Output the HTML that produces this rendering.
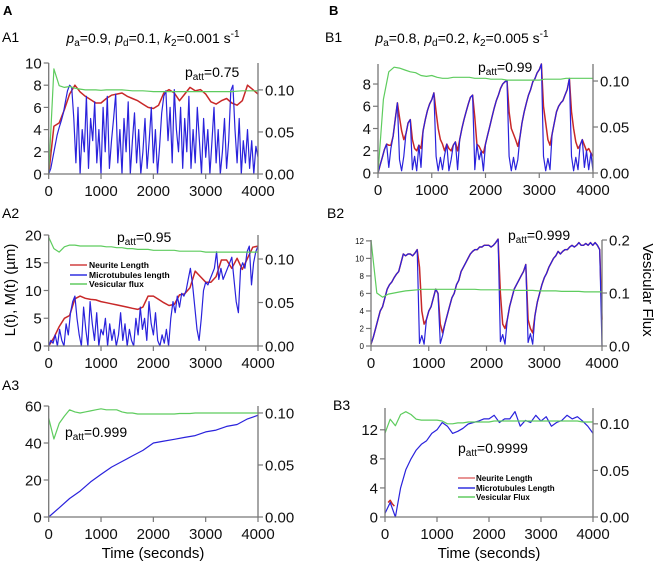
<!DOCTYPE html>
<html><head><meta charset="utf-8"><style>
html,body{margin:0;padding:0;background:#fff;}
svg{display:block;font-family:"Liberation Sans",Arial,sans-serif;}
</style></head><body>
<svg id="fig" width="656" height="563" viewBox="0 0 656 563" xmlns="http://www.w3.org/2000/svg">
<text x="3" y="15" font-size="13" font-weight="bold">A</text>
<text x="329" y="15" font-size="13" font-weight="bold">B</text>
<text x="2" y="42" font-size="14">A1</text>
<text x="325" y="42" font-size="14">B1</text>
<text x="2" y="218" font-size="14">A2</text>
<text x="327" y="218" font-size="14">B2</text>
<text x="2" y="390" font-size="14">A3</text>
<text x="333" y="410" font-size="14">B3</text>
<text x="153" y="43" font-size="14" text-anchor="middle"><tspan font-style="italic">p</tspan><tspan font-size="10" dy="3">a</tspan><tspan dy="-3">=0.9, </tspan><tspan font-style="italic">p</tspan><tspan font-size="10" dy="3">d</tspan><tspan dy="-3">=0.1, </tspan><tspan font-style="italic">k</tspan><tspan font-size="10" dy="3">2</tspan><tspan dy="-3">=0.001 s</tspan><tspan font-size="10" dy="-6">-1</tspan></text>
<text x="462" y="43" font-size="14" text-anchor="middle"><tspan font-style="italic">p</tspan><tspan font-size="10" dy="3">a</tspan><tspan dy="-3">=0.8, </tspan><tspan font-style="italic">p</tspan><tspan font-size="10" dy="3">d</tspan><tspan dy="-3">=0.2, </tspan><tspan font-style="italic">k</tspan><tspan font-size="10" dy="3">2</tspan><tspan dy="-3">=0.005 s</tspan><tspan font-size="10" dy="-6">-1</tspan></text>
<text x="185" y="77" font-size="14">p<tspan font-size="10" dy="3">att</tspan><tspan dy="-3">=0.75</tspan></text>
<text x="117" y="242" font-size="14">p<tspan font-size="10" dy="3">att</tspan><tspan dy="-3">=0.95</tspan></text>
<text x="65" y="437" font-size="14">p<tspan font-size="10" dy="3">att</tspan><tspan dy="-3">=0.999</tspan></text>
<text x="478" y="72" font-size="14">p<tspan font-size="10" dy="3">att</tspan><tspan dy="-3">=0.99</tspan></text>
<text x="508" y="240" font-size="14">p<tspan font-size="10" dy="3">att</tspan><tspan dy="-3">=0.999</tspan></text>
<text x="458" y="453" font-size="14">p<tspan font-size="10" dy="3">att</tspan><tspan dy="-3">=0.9999</tspan></text>
<text transform="translate(15,290) rotate(-90)" font-size="15" text-anchor="middle">L(t), M(t) (µm)</text>
<text transform="translate(643,290) rotate(90)" font-size="15" text-anchor="middle">Vesicular Flux</text>
<text x="153" y="558" font-size="15" text-anchor="middle">Time (seconds)</text>
<text x="489" y="558" font-size="15" text-anchor="middle">Time (seconds)</text>
<g font-size="8.5" font-weight="bold">
<line x1="70" y1="265" x2="87" y2="265" stroke="#d04040" stroke-width="1.5"/><text x="89" y="268">Neurite Length</text>
<line x1="70" y1="275" x2="87" y2="275" stroke="#3030e0" stroke-width="1.5"/><text x="89" y="278">Microtubules length</text>
<line x1="70" y1="284" x2="87" y2="284" stroke="#60cc60" stroke-width="1.5"/><text x="89" y="287">Vesicular flux</text>
</g>
<g font-size="8" font-weight="bold">
<line x1="458" y1="478" x2="475" y2="478" stroke="#e07070" stroke-width="1.5"/><text x="476" y="481">Neurite Length</text>
<line x1="458" y1="488" x2="475" y2="488" stroke="#3030e0" stroke-width="1.5"/><text x="476" y="491">Microtubules Length</text>
<line x1="458" y1="497" x2="475" y2="497" stroke="#60cc60" stroke-width="1.5"/><text x="476" y="500">Vesicular Flux</text>
</g>
</svg>
<script>
// ---- data ----
const xTicks = [0,1000,2000,3000,4000];
const a1Red = [0,4.3,4.6,5.8,7.2,8.0,7.4,7.0,6.7,6.4,6.4,6.8,7.1,7.2,7.3,7.0,6.8,6.6,6.3,6.0,5.9,6.2,7.3,7.6,7.3,6.6,7.2,7.8,7.5,7.6,7.2,6.5,6.3,6.6,6.8,6.4,6.2,6.6,8.0,7.6,7.2];
const a1Blue = [0,0.5,1.5,2.5,3.5,4.2,4.8,5.5,6.5,7.5,8.0,7.8,5,1,6,0,4,2,7,0.5,5,3,6.5,1,4,0,6,2,7,0.5,3,5,7.2,1,4,0,5,2,6.5,0,3,5.5,1,4,0,2,5,0.5,3,6,1,4,0,2.5,5.5,7,7.5,3,6,1,7.6,4,2,6,0.5,5,2,7,0.5,4,1,6,3,0,5,1.5,4,0,3,6,1,4,0,2,5,0.5,3,7.5,8,4,1,5,0,3,1,4,0.5,3,0,2.5,1.5];
const a1Green = [0.0,0.125,0.105,0.103,0.104,0.102,0.101,0.1,0.1,0.1,0.0995,0.1,0.1,0.1,0.1,0.0995,0.099,0.099,0.099,0.0985,0.098,0.098,0.098,0.098,0.098,0.098,0.098,0.098,0.098,0.098,0.098,0.098,0.098,0.098,0.098,0.098,0.0985,0.099,0.099,0.099,0.099];
const a1LeftTicks = [0,2,4,6,8,10];
const a2Red = [0,1.5,3.5,5,5.5,8.5,9,8.6,8.4,8.3,8,7.8,7.6,7.4,7.2,7,6.8,6.6,7,9,9,8.4,7.8,7.3,7.5,9.2,9.4,10.5,13.5,12.5,11.5,11.5,12.5,15.5,15.5,14,15.8,13.8,15.8,17.8,18];
const a2Blue = [0,1,0.5,2,0,3,1,0,4,2,6,8,9,5,2,0,7,3,0,8,4,1,6,0,3,2,5,0,4,1,3,0,2,6,1,4,0,3,1,0,5,2,7,3,5,1,8,4,2,6,1,0,2,0.5,3,0,5,8,6,9,7,9.5,9,10,12,14,11,7,3,1,5,10,11.5,11,12,13,14,17,12,14,12,13,14,15,16,12,8,6,14,15,14,17,18,11,15,17,18];
const a2Green = [0.125,0.112,0.108,0.114,0.116,0.116,0.115,0.115,0.115,0.115,0.115,0.114,0.114,0.113,0.113,0.112,0.112,0.111,0.111,0.111,0.11,0.11,0.11,0.11,0.11,0.109,0.109,0.109,0.109,0.109,0.108,0.108,0.108,0.108,0.108,0.108,0.108,0.108,0.108,0.108,0.108];
const a2LeftTicks = [0,5,10,15,20];
const a3Blue = [0,5,10,14,19,23,27,30,33,36,40,41,42,43,44,46,47,49,50,53,55];
const a3Green = [0.095,0.075,0.09,0.097,0.103,0.101,0.1,0.101,0.102,0.103,0.104,0.103,0.103,0.103,0.101,0.1,0.1,0.099,0.099,0.099,0.099,0.099,0.099,0.099,0.099,0.0995,0.0995,0.0995,0.1,0.1,0.1,0.1,0.1,0.1,0.1,0.1,0.1,0.1,0.1,0.1,0.1];
const a3LeftTicks = [0,20,40,60];
const b1Red = [0,0.7,1.4,2.1,2.6,2.5,2.5,3.3,4.8,6.3,5,3.8,3,3.5,4.5,4.8,3,2.2,2,2.5,2.2,3.8,4.8,5.6,6.2,6.6,7.2,5.5,4,3,2.6,2,2.6,2.2,2,2.5,2.8,2,3,4,4.8,5.5,6.2,6.8,7,5,2.6,2.4,2,1.8,2.6,3.4,4.2,5,5.8,6.5,7,7.6,8,8.2,8.3,5.5,4,3.5,3,2.4,3.2,4.5,5.5,6.3,7,7.5,8.2,8.5,9,9.3,9.8,6,4.5,3,2.5,3.5,4.5,5.5,6,6.3,6.5,7,7.5,8.5,5.5,4,2.8,2.2,2.5,3,2.5,2,2.2,1.8,1.5];
const b1Blue = [0,0.7,1.4,2.1,2.6,0.5,2.2,3.3,4.8,6.3,1.2,0.2,1.5,3.5,4.5,4.8,0.3,1.5,0.2,2.5,0.5,3.8,4.8,5.6,6.2,6.6,7.2,1.5,0.2,1.4,0.3,1.6,2.6,0.2,1.2,2.5,2.8,0.3,3,4,4.8,5.5,6.2,6.8,7,0.3,2.6,1.2,2,0.2,2.6,3.4,4.2,5,5.8,6.5,7,7.6,8,8.2,8.3,1.5,0.2,1.4,0.3,1.2,3.2,4.5,5.5,6.3,7,7.5,8.2,8.5,9,9.3,9.8,1.5,0.2,1.3,0.3,3.5,4.5,5.5,6,6.3,6.5,7,7.5,8.5,1.5,0.2,1.4,0.3,2.5,3,0.5,2,0.3,1.8,0.2];
const b1Green = [0.0,0.08,0.11,0.115,0.114,0.112,0.11,0.109,0.106,0.105,0.106,0.104,0.103,0.103,0.104,0.104,0.104,0.104,0.103,0.103,0.103,0.102,0.102,0.102,0.101,0.101,0.101,0.101,0.101,0.101,0.101,0.102,0.102,0.102,0.102,0.103,0.103,0.103,0.103,0.103,0.103];
const b1LeftTicks = [0,2,4,6,8];
const b2Red = [0.2,1,2,3,4,4.5,5.5,6.5,7,7.3,7.8,8.2,8.5,9.5,10.5,10.3,10.5,10.5,10.3,10.6,11,9,4,2.5,3,4,4.5,5.5,6.5,6,2.5,1.5,2.5,3.5,4.5,5.5,6,7,7.5,8.5,9,9.5,10,10.5,10.8,11,11,11.3,11.3,11.5,11.5,11.5,11.3,11.5,11.8,12.2,6,2.5,2,3,4.5,5.5,6.5,7,7.5,8,8.5,9.3,3,2,1.5,3.5,5,6,7,7.8,8.3,9,9.5,10,10.3,10.8,10.5,10.8,11,11,11.3,11.5,11.3,11.5,11.8,11.5,11.5,11.7,11.5,11.8,11.5,11.8,11.5,11,3];
const b2Blue = [0.2,1,2,3,4,4.5,5.5,6.5,7,7.3,7.8,8.2,8.5,9.5,10.5,10.3,10.5,10.5,10.3,10.6,11,0.3,1.2,0.2,3,4,4.5,5.5,6.5,6,0.3,1.2,2.5,3.5,4.5,5.5,6,7,7.5,8.5,9,9.5,10,10.5,10.8,11,11,11.3,11.3,11.5,11.5,11.5,11.3,11.5,11.8,12.2,0.5,1.3,0.2,3,4.5,5.5,6.5,7,7.5,8,8.5,9.3,0.4,1.4,0.2,3.5,5,6,7,7.8,8.3,9,9.5,10,10.3,10.8,10.5,10.8,11,11,11.3,11.5,11.3,11.5,11.8,11.5,11.5,11.7,11.5,11.8,11.5,11.8,11.5,11,0];
const b2Green = [0.2,0.1,0.092,0.098,0.1,0.102,0.104,0.105,0.106,0.107,0.107,0.107,0.107,0.107,0.107,0.107,0.107,0.107,0.107,0.106,0.106,0.106,0.106,0.106,0.106,0.105,0.105,0.105,0.105,0.104,0.104,0.104,0.104,0.103,0.103,0.103,0.103,0.102,0.102,0.102,0.102];
const b2LeftTicks = [0,2,4,6,8,10,12];
const b3Red = [2.0,2.3,1.8,1.5];
const b3Blue = [0.5,2,0,4,6.5,8,9.2,10,10.5,11.5,12,13,12.5,11.5,11.8,12.2,12.8,13,13.2,13.5,13.5,14,13,13.5,13.5,14.5,12.5,13.3,13,14,13.2,13.8,12.5,13,13.3,14,13.5,13.8,13.2,12.5,11.5];
const b3Green = [0.09,0.105,0.098,0.11,0.113,0.11,0.105,0.104,0.104,0.104,0.104,0.103,0.1,0.1,0.101,0.101,0.102,0.102,0.102,0.102,0.102,0.103,0.103,0.103,0.103,0.103,0.103,0.103,0.103,0.103,0.103,0.103,0.103,0.103,0.103,0.103,0.103,0.103,0.102,0.102,0.102];
const b3LeftTicks = [0,4,8,12];
const rightTicks005 = [0,0.05,0.1];
const rightTicks01 = [0,0.1,0.2];

const NS = "http://www.w3.org/2000/svg";
const svg = document.getElementById('fig');
const RED = "#c82828", BLUE = "#2a22dc", GREEN = "#5ecc5e", AX = "#777";

function mk(tag, attrs, parent) {
  const e = document.createElementNS(NS, tag);
  for (const k in attrs) e.setAttribute(k, attrs[k]);
  (parent || svg).appendChild(e);
  return e;
}

function panel(name, g, series, leftTicks, rightTicks, rDec, leftFont) {
  const grp = mk('g', {});
  
  
  const sx = t => g.x0 + (t / 4000) * (g.x1 - g.x0);
  const syL = v => g.yB - (v / g.lMax) * (g.yB - g.yT);
  const syR = v => g.yB - (v / g.rMax) * (g.yB - g.yT);
  series.forEach(s => {
    const n = s.vals.length;
    const t0 = s.t0 || 0, t1 = (s.t1 === undefined) ? 4000 : s.t1;
    const sy = s.axis === 'r' ? syR : syL;
    let d = '';
    s.vals.forEach((v, i) => {
      const t = t0 + (t1 - t0) * i / (n - 1);
      d += (i ? 'L' : 'M') + sx(t).toFixed(1) + ' ' + sy(v).toFixed(1);
    });
    const p = mk('path', {d: d, fill: 'none', stroke: s.color, 'stroke-width': s.w || 1.2, 'stroke-linejoin': 'round'}, grp);
    
    
  });
  // axes
  const ax = mk('path', {d: `M${g.x0} ${g.yT}V${g.yB}H${g.x1}V${g.yT}`, fill: 'none', stroke: AX, 'stroke-width': 1.3}, grp);
  
  
  const fs = leftFont || 15;
  leftTicks.forEach(v => {
    const y = syL(v);
    mk('line', {x1: g.x0 - 5, x2: g.x0, y1: y, y2: y, stroke: AX, 'stroke-width': 1.2}, grp);
    const t = mk('text', {x: g.x0 - 7, y: y + fs * 0.36, 'font-size': fs, 'text-anchor': 'end', fill: '#111'}, grp);
    t.textContent = v;
    
    
  });
  rightTicks.forEach(v => {
    const y = syR(v);
    mk('line', {x1: g.x1, x2: g.x1 + 5, y1: y, y2: y, stroke: AX, 'stroke-width': 1.2}, grp);
    const t = mk('text', {x: g.x1 + 7, y: y + 5.4, 'font-size': 15, fill: '#111'}, grp);
    t.textContent = v.toFixed(rDec);
    
    
  });
  xTicks.forEach(v => {
    const x = sx(v);
    mk('line', {x1: x, x2: x, y1: g.yB, y2: g.yB + 5, stroke: AX, 'stroke-width': 1.2}, grp);
    const t = mk('text', {x: x, y: g.yB + 22, 'font-size': 15, 'text-anchor': 'middle', fill: '#111'}, grp);
    t.textContent = v;
    
    
  });
}

panel('a1', {x0:48.7, x1:258, yB:174, yT:63, lMax:10, rMax:0.132},
  [{vals:a1Red, color:RED, label:'neurite-line', w:1.5},{vals:a1Blue, color:BLUE, label:'microtubule-line'},{vals:a1Green, color:GREEN, label:'flux-line', axis:'r'}],
  a1LeftTicks, rightTicks005, 2);
panel('a2', {x0:48.7, x1:258, yB:346, yT:235, lMax:20, rMax:0.1276},
  [{vals:a2Red, color:RED, label:'neurite-line', w:1.5},{vals:a2Blue, color:BLUE, label:'microtubule-line'},{vals:a2Green, color:GREEN, label:'flux-line', axis:'r'}],
  a2LeftTicks, rightTicks005, 2);
panel('a3', {x0:48.7, x1:258, yB:517, yT:406, lMax:60, rMax:0.1067},
  [{vals:a3Blue, color:BLUE, label:'microtubule-line'},{vals:a3Green, color:GREEN, label:'flux-line', axis:'r'}],
  a3LeftTicks, rightTicks005, 2);
panel('b1', {x0:378, x1:593, yB:173, yT:64, lMax:9.8, rMax:0.1185},
  [{vals:b1Red, color:RED, label:'neurite-line', w:1.5},{vals:b1Blue, color:BLUE, label:'microtubule-line'},{vals:b1Green, color:GREEN, label:'flux-line', axis:'r'}],
  b1LeftTicks, rightTicks005, 2);
panel('b2', {x0:371, x1:602, yB:346, yT:240, lMax:12.1, rMax:0.2},
  [{vals:b2Red, color:RED, label:'neurite-line', w:1.5},{vals:b2Blue, color:BLUE, label:'microtubule-line'},{vals:b2Green, color:GREEN, label:'flux-line', axis:'r'}],
  b2LeftTicks, rightTicks01, 1, 8);
panel('b3', {x0:385, x1:593, yB:517, yT:408, lMax:15, rMax:0.117},
  [{vals:b3Red, color:RED, label:'neurite-line', t0:60, t1:180, w:1.5},{vals:b3Blue, color:BLUE, label:'microtubule-line'},{vals:b3Green, color:GREEN, label:'flux-line', axis:'r'}],
  b3LeftTicks, rightTicks005, 2);
</script>
</body></html>
